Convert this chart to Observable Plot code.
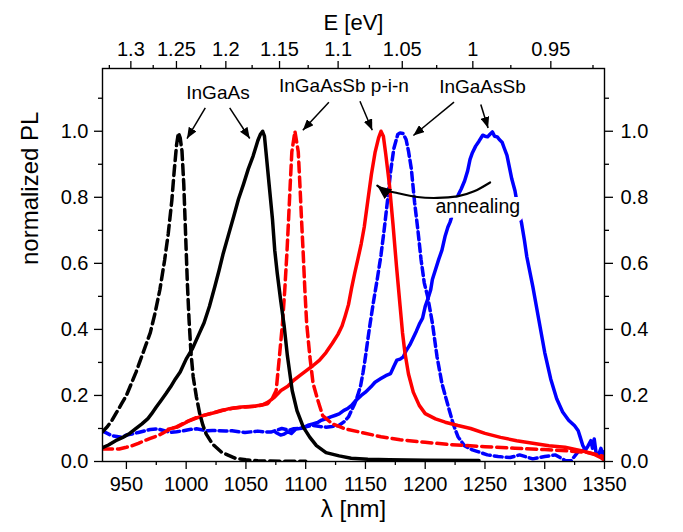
<!DOCTYPE html>
<html>
<head>
<meta charset="utf-8">
<script src="https://cdn.jsdelivr.net/npm/d3@7"></script>
<script src="https://cdn.jsdelivr.net/npm/@observablehq/plot@0.6"></script>
<style>
  html, body { margin: 0; padding: 0; background: white; }
  #chart { width: 683px; height: 532px; }
</style>
</head>
<body>
<div id="chart"></div>
<script>
// ---- axis ticks ----
const xTicks = [950, 1000, 1050, 1100, 1150, 1200, 1250, 1300, 1350];
const xMinor = [975, 1025, 1075, 1125, 1175, 1225, 1275, 1325];
const yTicks = [0, 0.2, 0.4, 0.6, 0.8, 1.0];
const yMinor = [0.1, 0.3, 0.5, 0.7, 0.9, 1.1];
const eTicks = [1.3, 1.25, 1.2, 1.15, 1.1, 1.05, 1, 0.95];
const eMinor = [1.325, 1.275, 1.225, 1.175, 1.125, 1.075, 1.025, 0.975, 0.925];
const hc = 1239.84; // nm·eV

// ---- series: [wavelength nm, normalized PL] ----
const ingaasDashed = [[930,0.09],[934,0.105],[938,0.125],[942,0.15],[946,0.175],[950,0.2],[954,0.235],[958,0.27],[962,0.31],[966,0.35],[970,0.39],[974,0.45],[978,0.52],[982,0.61],[985,0.69],[988,0.79],[990,0.88],[992,0.96],[993.5,0.995],[995,0.98],[996.5,0.94],[998,0.84],[999,0.74],[1000,0.64],[1001,0.54],[1002.4,0.43],[1004,0.33],[1005.9,0.256],[1008.6,0.195],[1011.4,0.144],[1014,0.11],[1016.8,0.083],[1022,0.053],[1030,0.027],[1041,0.010],[1050,0.005],[1060,0.002],[1080,0.001],[1100,0.001]];

const ingaasSolid = [[930,0.042],[935,0.05],[941,0.063],[947,0.073],[952,0.083],[957,0.097],[963,0.114],[968,0.13],[971,0.144],[975,0.165],[979,0.185],[983,0.205],[987,0.226],[991,0.25],[995,0.271],[1000,0.31],[1005,0.34],[1011,0.388],[1015,0.42],[1019.5,0.47],[1024,0.53],[1027.6,0.58],[1031,0.63],[1035.7,0.69],[1040,0.745],[1043.8,0.795],[1048,0.84],[1052,0.886],[1056,0.925],[1060,0.972],[1062,0.99],[1064,1.0],[1065.5,0.985],[1066.8,0.937],[1069.5,0.835],[1072.2,0.734],[1074.1,0.64],[1076.2,0.57],[1079,0.49],[1082,0.41],[1084.7,0.32],[1088.7,0.215],[1092.7,0.154],[1098,0.104],[1103.5,0.073],[1109,0.048],[1117,0.027],[1128,0.017],[1138,0.010],[1152,0.007],[1170,0.005],[1200,0.004],[1245,0.003]];

const pinDashed = [[930,0.038],[937,0.038],[944,0.038],[950,0.043],[955,0.048],[960,0.055],[965,0.063],[970,0.07],[976,0.078],[980,0.085],[984,0.093],[988,0.10],[992,0.105],[1000,0.12],[1010,0.135],[1020,0.145],[1030,0.155],[1040,0.162],[1050,0.165],[1060,0.168],[1068,0.175],[1072,0.19],[1075.3,0.215],[1078,0.317],[1080.6,0.419],[1082.5,0.52],[1084.3,0.632],[1085.7,0.734],[1087,0.835],[1088.4,0.937],[1091,1.0],[1093.8,0.937],[1095.2,0.835],[1096.5,0.734],[1097.9,0.632],[1099.3,0.52],[1100.8,0.419],[1103.5,0.317],[1106.2,0.236],[1110.2,0.185],[1114.2,0.139],[1122.3,0.114],[1133,0.099],[1146.5,0.088],[1163,0.075],[1179,0.066],[1200,0.058],[1222,0.051],[1250,0.045],[1275,0.040],[1300,0.036],[1320,0.032],[1335,0.028],[1345,0.02],[1350,0.014]];

const pinSolid = [[985,0.098],[992.4,0.104],[1003,0.124],[1014,0.139],[1025,0.149],[1036,0.160],[1046,0.165],[1057,0.167],[1064,0.172],[1068.5,0.180],[1074,0.195],[1079.3,0.215],[1085,0.228],[1090,0.246],[1095,0.26],[1100.8,0.276],[1106,0.29],[1111.6,0.307],[1117,0.33],[1122.3,0.358],[1127,0.385],[1130.4,0.41],[1133,0.44],[1135.8,0.475],[1138.4,0.525],[1141,0.57],[1143.8,0.615],[1146.5,0.66],[1149,0.71],[1152,0.79],[1155,0.87],[1158,0.935],[1161,0.98],[1163,1.0],[1165,0.985],[1167,0.93],[1170,0.84],[1173,0.72],[1176,0.59],[1179,0.47],[1181,0.39],[1183,0.33],[1186,0.265],[1190,0.21],[1195,0.17],[1200,0.145],[1208.6,0.129],[1216.7,0.119],[1227.4,0.109],[1238,0.100],[1250,0.085],[1263,0.073],[1276.5,0.063],[1290,0.055],[1303.5,0.048],[1317,0.043],[1330.5,0.033],[1341,0.022],[1347,0.012],[1350,0.003]];

const sbDashed = [[930,0.092],[934,0.085],[938,0.078],[942,0.076],[946.5,0.073],[950,0.08],[954.6,0.083],[960,0.088],[965.4,0.093],[970,0.097],[976,0.099],[981,0.094],[987,0.088],[992,0.09],[997.8,0.093],[1003,0.097],[1008.6,0.099],[1013,0.096],[1016.8,0.093],[1022,0.094],[1027.6,0.093],[1033,0.092],[1038.4,0.093],[1044,0.09],[1049.2,0.088],[1055,0.09],[1060,0.092],[1065,0.09],[1070.8,0.089],[1076,0.095],[1080,0.1],[1086,0.095],[1090,0.099],[1096,0.1],[1101,0.106],[1106,0.109],[1112,0.106],[1117,0.104],[1122,0.106],[1127.7,0.109],[1132,0.12],[1135.8,0.135],[1139,0.16],[1141,0.175],[1143.5,0.2],[1146,0.23],[1148,0.27],[1150,0.317],[1152,0.37],[1154,0.42],[1157,0.49],[1160,0.555],[1163,0.625],[1165.6,0.70],[1168.3,0.785],[1171,0.876],[1173.7,0.947],[1177,0.99],[1179,0.995],[1181.5,0.993],[1184,0.975],[1186,0.94],[1188.4,0.886],[1191.1,0.785],[1193.8,0.703],[1196.5,0.612],[1199.2,0.541],[1202,0.50],[1204,0.46],[1206,0.419],[1209.9,0.317],[1214,0.236],[1219.4,0.165],[1223.4,0.114],[1227.4,0.075],[1232.8,0.048],[1239.5,0.035],[1244,0.03],[1252,0.02],[1261,0.015],[1271,0.012],[1279,0.02],[1290,0.008],[1300,0.015],[1309,0.02],[1317,0.003],[1322,0.002],[1328,0.03],[1333,0.035]];

const sbSolid = [[1075,0.088],[1079,0.08],[1082,0.083],[1085,0.09],[1088,0.085],[1092,0.099],[1095,0.1],[1099,0.104],[1102,0.11],[1106,0.114],[1110,0.118],[1113,0.125],[1117,0.129],[1121,0.135],[1125,0.14],[1128,0.144],[1132,0.155],[1135,0.16],[1138.4,0.170],[1142,0.185],[1146.5,0.2],[1150,0.21],[1154.6,0.226],[1158,0.24],[1162.9,0.251],[1167,0.26],[1171,0.266],[1174,0.29],[1176.3,0.307],[1179,0.31],[1181.7,0.317],[1184,0.335],[1187.1,0.353],[1190,0.375],[1192.5,0.394],[1195,0.415],[1197.8,0.434],[1200,0.47],[1202,0.49],[1204.6,0.52],[1206,0.551],[1208.5,0.58],[1211.3,0.612],[1214,0.64],[1216.7,0.683],[1219,0.71],[1220.7,0.724],[1223,0.75],[1225.5,0.79],[1228,0.81],[1230.1,0.825],[1233,0.85],[1235.5,0.88],[1237.5,0.915],[1239.5,0.935],[1242.2,0.955],[1245,0.97],[1248.1,0.988],[1250,0.985],[1252.2,0.983],[1254,0.99],[1256.2,0.998],[1258,0.985],[1260.3,0.983],[1262,0.975],[1264.3,0.967],[1266,0.95],[1268.4,0.927],[1270.5,0.89],[1272.4,0.856],[1275.1,0.820],[1277.5,0.77],[1280.5,0.724],[1283,0.67],[1285,0.62],[1290,0.53],[1295,0.43],[1300,0.33],[1305,0.25],[1310,0.19],[1315,0.15],[1320,0.125],[1325,0.108],[1328,0.093],[1330,0.07],[1331.9,0.048],[1334,0.035],[1335.9,0.045],[1338.6,0.063],[1340,0.04],[1341.4,0.068],[1343,0.025],[1345,0.02],[1347,0.04],[1349,0.015],[1350,0.03]];

// ---- annotations ----
const labels = [
  {x: 1026.6, y: 1.116, text: "InGaAs"},
  {x: 1132, y: 1.136, text: "InGaAsSb p-i-n"},
  {x: 1247.9, y: 1.133, text: "InGaAsSb"}
];
const annealLabel = [{x: 1244, y: 0.771, text: "annealing"}];
const pointers = [
  {x1: 1016, y1: 1.071, x2: 1000.7, y2: 0.978},
  {x1: 1036.4, y1: 1.071, x2: 1053.2, y2: 0.978},
  {x1: 1119.4, y1: 1.088, x2: 1097.6, y2: 1.003},
  {x1: 1145.4, y1: 1.091, x2: 1155.7, y2: 1.003},
  {x1: 1224.1, y1: 1.088, x2: 1190.1, y2: 0.987},
  {x1: 1246.5, y1: 1.081, x2: 1252.6, y2: 1.010}
];
const annealPath = [[1254.3,0.845],[1240.9,0.818],[1226.9,0.803],[1210.2,0.798],[1193.4,0.801],[1176.6,0.813],[1165.5,0.823],[1159.9,0.835]];

const font = "'Liberation Sans', Arial, Helvetica, sans-serif";
const line = (data, stroke, dash) => Plot.line(data, {
  x: d => d[0], y: d => d[1], stroke, strokeWidth: 3.5,
  strokeDasharray: dash, clip: true, strokeLinejoin: "round"
});

// filled triangular arrow head, tip at the end of the path
function head(len, wid) {
  return (color, context) => {
    const m = d3.create("svg:marker")
      .attr("viewBox", `${-len} ${-wid / 2} ${len} ${wid}`)
      .attr("markerWidth", len).attr("markerHeight", wid)
      .attr("markerUnits", "userSpaceOnUse")
      .attr("refX", 0).attr("refY", 0)
      .attr("orient", "auto")
      .attr("fill", color).attr("stroke", "none");
    m.append("path").attr("d", `M${-len},${-wid / 2}L0,0L${-len},${wid / 2}Z`);
    return m.node();
  };
}

const chart = Plot.plot({
  width: 683, height: 532,
  marginLeft: 102, marginRight: 79, marginTop: 68, marginBottom: 71,
  x: {domain: [930, 1350]},
  y: {domain: [0, 1.19]},
  style: {fontFamily: font, background: "white", color: "black", overflow: "visible"},
  marks: [
    line(sbDashed, "#0000ff", "8,4"),
    line(sbSolid, "#0000ff", null),
    line(pinDashed, "#ff0000", "10,5"),
    line(pinSolid, "#ff0000", null),
    line(ingaasDashed, "#000000", "10,5"),
    line(ingaasSolid, "#000000", null),
    Plot.text(annealLabel, {x: "x", y: "y", text: "text", fontSize: 19.5, fill: "black", stroke: "white", strokeWidth: 10}),
    Plot.text(labels, {x: "x", y: "y", text: "text", fontSize: 19, fill: "black"}),
    Plot.link(pointers, {x1: "x1", y1: "y1", x2: "x2", y2: "y2", stroke: "black", strokeWidth: 1.5, markerEnd: head(11, 9)}),
    Plot.line(annealPath, {x: d => d[0], y: d => d[1], curve: "natural", stroke: "black", strokeWidth: 2.2, markerEnd: head(14, 12)}),
    Plot.frame({stroke: "black", strokeWidth: 1.4}),
    // bottom axis
    Plot.axisX({anchor: "bottom", ticks: xTicks, tickSize: 8, tickPadding: 7, fontSize: 20, strokeWidth: 1.3, label: null, tickFormat: d => String(d)}),
    Plot.axisX({anchor: "bottom", ticks: xMinor, tickSize: 4, strokeWidth: 1.3, label: null, tickFormat: () => ""}),
    // top axis (energy)
    Plot.axisX({anchor: "top", ticks: eTicks.map(e => hc / e), tickSize: 8, tickPadding: 5, fontSize: 20, strokeWidth: 1.3, label: null,
      tickFormat: d => String(+(hc / d).toFixed(3))}),
    Plot.axisX({anchor: "top", ticks: eMinor.map(e => hc / e), tickSize: 4, strokeWidth: 1.3, label: null, tickFormat: () => ""}),
    // left & right axes
    Plot.axisY({anchor: "left", ticks: yTicks, tickSize: 8, tickPadding: 6, fontSize: 20, strokeWidth: 1.3, label: null, tickFormat: d => d.toFixed(1)}),
    Plot.axisY({anchor: "left", ticks: yMinor, tickSize: 4, strokeWidth: 1.3, label: null, tickFormat: () => ""}),
    Plot.axisY({anchor: "right", ticks: yTicks, tickSize: 8, tickPadding: 8, fontSize: 20, strokeWidth: 1.3, label: null, tickFormat: d => d.toFixed(1)}),
    Plot.axisY({anchor: "right", ticks: yMinor, tickSize: 4, strokeWidth: 1.3, label: null, tickFormat: () => ""}),
    // axis titles
    Plot.text(["λ [nm]"], {frameAnchor: "bottom", dy: 55, fontSize: 24}),
    Plot.text(["E [eV]"], {frameAnchor: "top", dy: -54, fontSize: 22}),
    Plot.text(["normalized PL"], {frameAnchor: "left", dx: -72, rotate: -90, fontSize: 24})
  ]
});
document.getElementById("chart").appendChild(chart);
</script>
</body>
</html>
